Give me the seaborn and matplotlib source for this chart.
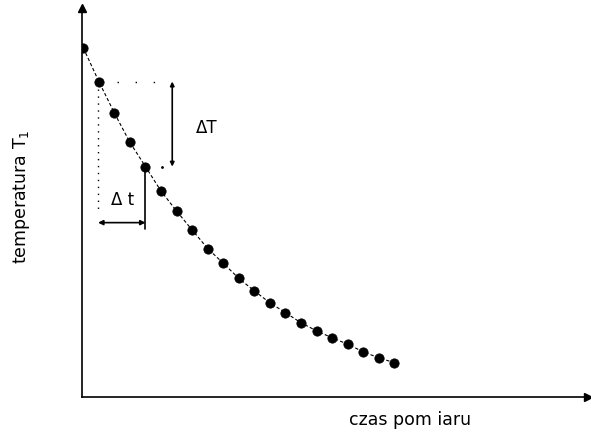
import matplotlib
matplotlib.use("Agg")
import matplotlib.pyplot as plt
import seaborn as sns
import pandas as pd
import numpy as np

# data
czas = list(range(21))
temperatura = [99.7, 90.1, 81.1, 72.7, 65.8, 58.8, 53.1, 47.7, 42.4, 38.2, 33.9,
               30.3, 26.9, 24.1, 21.2, 18.9, 16.9, 15.1, 12.9, 11.2, 9.8]
x_label = "czas pom iaru"
y_label = "temperatura T$_1$"
i_a, i_b = 1, 4  # points used for the Δt / ΔT construction

sns.set_style("white")
plt.rcParams['font.family'] = ['DejaVu Sans']
plt.rcParams['mathtext.fontset'] = 'dejavusans'
plt.rcParams['text.color'] = 'black'

df = pd.DataFrame({"t": czas, "T": temperatura})

fig = plt.figure(figsize=(5.91, 4.32), dpi=100)
ax = fig.add_axes([82/591, 1 - 397/432, (588-82)/591, (397-8)/432])

sns.lineplot(data=df, x="t", y="T", ax=ax, color="black", lw=0.8,
             linestyle=(0, (3, 2)), zorder=2)
sns.scatterplot(data=df, x="t", y="T", ax=ax, color="black", s=45,
                edgecolor="black", zorder=3)

ax.set_xlim(-0.084, 32.46)
ax.set_ylim(0, 111.1)
ax.set_xticks([])
ax.set_yticks([])
ax.set_xlabel("")
ax.set_ylabel("")
for s in ["top", "right"]:
    ax.spines[s].set_visible(False)
for s in ["left", "bottom"]:
    ax.spines[s].set_linewidth(1.2)
    ax.spines[s].set_color("black")

# axis arrows
ax.plot(1, 0, ">", color="black", ms=6, transform=ax.transAxes, clip_on=False)
ax.plot(0, 1, "^", color="black", ms=6, transform=ax.transAxes, clip_on=False)

ta, Ta = czas[i_a], temperatura[i_a]
tb, Tb = czas[i_b], temperatura[i_b]

# dotted helper lines
ax.plot([ta, 4.6], [Ta, Ta], color="black", lw=1, linestyle=(0, (1, 12)))
ax.plot([ta - 0.05, ta - 0.05], [Ta - 2, 52.9], color="black", lw=1, linestyle=(0, (1, 4)))
ax.plot([5.06], [Tb], marker=".", color="black", ms=2)

# ΔT arrow
ax.annotate("", xy=(5.72, Ta), xytext=(5.72, Tb),
            arrowprops=dict(arrowstyle="<|-|>", color="black", lw=1.2,
                            mutation_scale=6, shrinkA=0, shrinkB=0))
ax.text(7.94, 76.9, "ΔT", fontsize=12, ha="center", va="center", color="black")

# Δt arrow
ax.plot([tb, tb], [Tb, 48.0], color="black", lw=1.2)
ax.annotate("", xy=(ta - 0.05, 49.8), xytext=(tb, 49.8),
            arrowprops=dict(arrowstyle="<|-|>", color="black", lw=1.2,
                            mutation_scale=7, shrinkA=0, shrinkB=0))
ax.text(2.55, 56.3, "Δ t", fontsize=12, ha="center", va="center", color="black")

fig.text(410/591, 1 - 420/432, x_label, fontsize=12.5, ha="center", va="center",
         color="black")
fig.text(22/591, 1 - 197/432, y_label, fontsize=12.5, ha="center", va="center",
         rotation=90, color="black")

fig.savefig("out.png", dpi=100)
